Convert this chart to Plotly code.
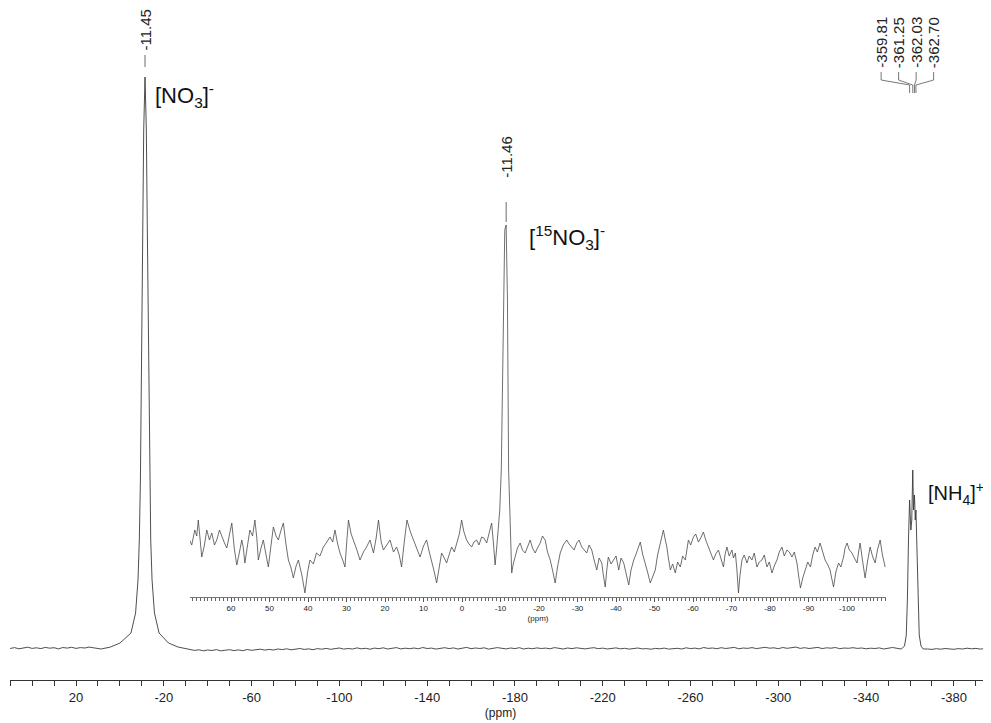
import numpy as np
import plotly.graph_objects as go

# ---------------- data ----------------
# main spectrum, intensity in arbitrary units (baseline ~0, [NO3]- peak top ~573)
base_left_ppm = np.arange(50, 9, -2)
base_left_int = [1.5, 2.4, 1.2, 2.0, 2.8, 1.6, 2.2, 1.4, 2.6, 1.8, 2.3, 1.1, 2.5, 1.9, 2.7,
                 1.6, 2.4, 2.0, 2.9, 2.2, 1.8]

no3_ppm = [8.55, 4.25, -0.05, -5.05, -7.15, -8.25, -8.85, -9.35, -9.75, -10.05, -10.45,
           -10.85, -11.45, -12.05, -12.45, -12.85, -13.15, -13.55, -14.05, -14.65,
           -15.75, -17.85, -22.15, -26.45, -31.45]
no3_int = [1, 3, 7, 17, 37, 70, 110, 170, 270, 330, 430, 520, 573, 520, 430, 330, 270,
           170, 110, 70, 37, 17, 7, 3, 1]

base_mid_ppm = np.arange(-34, -353, -2)
base_mid_int = [-0.4, 0.2, -0.8, 0.0, -0.5, 0.4, -0.9, -0.2, 0.3, -0.6,
                0.1, -0.7, 0.5, -0.3, 0.2, 0.8, -0.1, 0.6, 0.0, 1.0,
                0.4, 1.2, 0.2, 0.9, 1.5, 0.6, 1.1, 0.3, 1.4, 0.8,
                1.6, 0.7, 1.3, 2.0, 0.9, 1.5, 1.0, 2.1, 1.2, 1.7,
                0.8, 1.9, 1.3, 2.2, 1.0, 1.6, 2.4, 1.1, 1.8, 1.3,
                2.0, 1.2, 2.5, 1.5, 1.9, 0.9, 1.7, 2.3, 1.4, 2.1,
                1.0, 1.8, 2.6, 1.3, 2.0, 1.5, 2.2, 0.9, 1.6, 2.4,
                1.7, 1.1, 2.0, 1.4, 2.3, 1.0, 1.8, 1.3, 2.1, 1.5,
                1.9, 1.2, 2.4, 1.6, 1.0, 2.0, 1.4, 2.2, 1.7, 1.1,
                1.8, 2.3, 1.3, 1.9, 1.0, 1.6, 2.1, 1.2, 1.7, 0.9,
                1.5, 2.0, 1.1, 1.4, 0.8, 1.6, 1.2, 1.9, 0.9, 1.3,
                1.7, 1.0, 2.2, 1.4, 1.9, 1.1, 2.5, 1.6, 2.0, 1.3,
                2.3, 1.5, 1.8, 2.6, 1.2, 2.0, 1.6, 2.4, 1.4, 1.9,
                2.7, 1.8, 2.2, 1.3, 2.5, 1.7, 2.0, 2.9, 1.6, 2.3,
                1.5, 2.1, 2.6, 1.4, 2.2, 1.8, 2.5, 1.3, 2.0, 1.7,
                2.3, 1.6, 2.0, 1.2, 1.8, 1.5, 2.1, 1.0, 1.6, 2.5]

nh4_ppm = [-356.0, -357.5, -358.3, -358.8, -359.3, -359.81, -360.4, -360.8, -361.25,
           -361.6, -362.03, -362.4, -362.70, -363.2, -363.7, -364.2, -365.0, -366.0]
nh4_int = [1, 4, 15, 50, 110, 150, 120, 130, 180, 140, 155, 130, 140, 100, 50, 15, 4, 1]

base_right_ppm = np.arange(-368, -397, -2)
base_right_int = [1.0, 0.6, 1.3, 0.8, 1.5, 1.1, 0.7, 1.4, 1.0, 1.8, 1.2, 1.6, 0.9, 1.5, 1.2]

# inset (expanded -110..70 ppm) spectrum, arbitrary units
inset_ppm = [71.0, 70.2, 69.4, 68.9, 68.5, 68.0, 67.6, 66.9, 66.3, 65.6, 65.0, 64.3, 63.7,
             63.0, 62.4, 61.7, 61.1, 60.4, 59.8, 59.1, 58.5, 57.8, 57.2, 56.8, 56.4, 55.7,
             55.1, 54.4, 53.8, 53.3, 52.9, 52.2, 51.6, 50.9, 50.3, 49.6, 49.0, 48.3, 47.7,
             47.0, 46.4, 45.7, 45.1, 44.4, 43.8, 43.1, 42.5, 41.6, 40.8, 40.1, 39.5, 38.6,
             37.8, 36.9, 36.0, 35.1, 34.3, 33.6, 33.0, 32.3, 31.7, 31.0, 30.4, 29.9, 29.5,
             28.8, 28.2, 27.3, 26.5, 25.6, 24.8, 23.9, 23.0, 22.3, 21.7, 21.0, 20.4, 19.5,
             18.7, 17.8, 17.0, 16.3, 15.7, 15.0, 14.3, 13.4, 12.6, 11.7, 10.9, 10.0, 9.2,
             8.5, 7.9, 7.2, 6.6, 5.9, 5.3, 4.6, 4.0, 3.3, 2.7, 2.0, 1.4, 0.7, 0.1, -0.5,
             -1.2, -1.8, -2.5, -3.1, -3.8, -4.4, -5.1, -5.7, -6.4, -7.0, -7.7, -8.2, -8.6,
             -9.0, -9.4, -9.8, -10.2, -10.7, -11.1, -11.46, -11.8, -12.1, -12.5, -12.9,
             -13.3, -13.8, -14.4, -15.1, -15.7, -16.4, -17.0, -17.7, -18.3, -19.0, -19.6,
             -20.3, -20.9, -21.6, -22.2, -22.9, -23.5, -24.2, -24.8, -25.5, -26.3, -27.2,
             -27.8, -28.5, -29.1, -29.8, -30.4, -31.1, -31.7, -32.4, -33.0, -33.7, -34.3,
             -35.0, -35.6, -36.3, -36.7, -37.2, -37.6, -38.0, -38.7, -39.4, -40.0, -40.7,
             -41.3, -42.0, -42.6, -43.3, -43.9, -44.6, -45.4, -46.3, -46.9, -47.6, -48.2,
             -48.9, -49.5, -50.2, -50.8, -51.5, -51.9, -52.3, -52.7, -53.2, -53.6, -54.1,
             -54.7, -55.4, -56.0, -56.7, -57.3, -58.0, -58.4, -58.8, -59.4, -60.1, -60.7,
             -61.4, -62.0, -62.7, -63.3, -64.0, -64.6, -65.3, -65.9, -66.6, -67.2, -67.9,
             -68.3, -68.8, -69.4, -70.1, -70.5, -71.0, -71.4, -71.8, -72.2, -72.7, -73.3,
             -74.0, -74.6, -75.3, -75.9, -76.6, -77.2, -77.9, -78.5, -79.2, -79.8, -80.5,
             -81.1, -81.8, -82.4, -83.1, -83.7, -84.4, -85.0, -85.7, -86.3, -87.0, -87.4,
             -87.9, -88.5, -89.2, -89.8, -90.5, -91.1, -91.7, -92.3, -93.0, -93.6, -94.3,
             -94.9, -95.6, -96.0, -96.5, -97.1, -97.8, -98.4, -99.1, -99.5, -100.0, -100.6,
             -101.3, -101.9, -102.6, -103.0, -103.4, -104.0, -104.7, -105.3, -106.0,
             -106.6, -107.3, -107.9, -108.6, -109.2, -109.9]
inset_int = [62, 55, 70, 64, 80, 58, 43, 55, 70, 60, 67, 55, 60,
             70, 63, 57, 52, 66, 77, 50, 35, 48, 60, 52, 37, 55,
             70, 64, 80, 62, 40, 52, 60, 45, 33, 55, 73, 64, 60,
             70, 77, 55, 40, 32, 22, 34, 40, 25, 7, 28, 40, 36,
             47, 44, 53, 58, 63, 58, 70, 56, 47, 40, 33, 60, 80,
             66, 60, 50, 40, 48, 53, 60, 47, 62, 80, 58, 50, 55,
             60, 48, 53, 45, 33, 58, 80, 68, 60, 52, 43, 54, 60,
             48, 40, 28, 17, 35, 47, 42, 37, 46, 53, 48, 57, 66, 80, 68,
             60, 56, 53, 58, 60, 55, 63, 62, 57, 66, 77, 55, 35,
             52, 70, 90, 130, 260, 370, 375, 300, 130, 70, 27,
             36, 43, 52, 57, 50, 47, 54, 60, 52, 47, 52,
             57, 64, 60, 48, 40, 30, 17, 33, 47, 55, 60,
             56, 53, 50, 57, 60, 53, 50, 47, 55, 50, 40,
             30, 42, 37, 25, 13, 30, 43, 36, 40, 44, 30,
             42, 37, 28, 15, 30, 40, 48, 58, 46, 37, 28,
             17, 24, 30, 45, 57, 64, 70, 62, 53, 42, 30,
             36, 27, 38, 33, 44, 40, 50, 60, 55, 63, 66,
             58, 62, 68, 60, 53, 47, 40, 46, 50, 42, 33,
             45, 53, 44, 50, 42, 47, 30, 7, 25, 40, 45,
             37, 44, 40, 47, 33, 38, 40, 45, 33, 38, 27,
             34, 40, 48, 53, 44, 50, 48, 43, 48, 37, 25,
             12, 22, 30, 38, 33, 45, 53, 48, 57, 50, 40,
             36, 30, 22, 13, 28, 37, 33, 43, 52, 57, 50,
             47, 42, 37, 48, 57, 40, 22, 38, 53,
             44, 37, 50, 60, 45, 33]

main_tick_vals = [20, -20, -60, -100, -140, -180, -220, -260, -300, -340, -380]
main_tick_text = ["20", "-20", "-60", "-100", "-140", "-180", "-220", "-260", "-300", "-340", "-380"]
inset_tick_vals = [60, 50, 40, 30, 20, 10, 0, -10, -20, -30, -40, -50, -60, -70, -80, -90, -100]
inset_tick_text = ["60", "50", "40", "30", "20", "10", "0", "-10", "-20", "-30", "-40", "-50",
                   "-60", "-70", "-80", "-90", "-100"]

no3_shift = "-11.45"
n15_shift = "-11.46"
nh4_shifts = [-359.81, -361.25, -362.03, -362.70]
nh4_labels = ["-359.81", "-361.25", "-362.03", "-362.70"]

# ---------------- figure ----------------
main_x = list(base_left_ppm) + no3_ppm + list(base_mid_ppm) + nh4_ppm + list(base_right_ppm)
main_y = base_left_int + no3_int + base_mid_int + nh4_int + base_right_int

FONT = "Liberation Sans, Arial, sans-serif"
LINE = "#3a3a3a"

fig = go.Figure()
fig.add_trace(go.Scatter(x=main_x, y=main_y, mode="lines",
                         line=dict(color=LINE, width=0.9), xaxis="x", yaxis="y",
                         hoverinfo="skip", showlegend=False))
fig.add_trace(go.Scatter(x=inset_ppm, y=inset_int, mode="lines",
                         line=dict(color="#4a4a4a", width=0.8), xaxis="x2", yaxis="y2",
                         hoverinfo="skip", showlegend=False))

annotations = []
shapes = []

# [NO3]- peak label and leader
annotations.append(dict(x=-11.45, xref="x", y=597, yref="y", text=no3_shift,
                        textangle=-90, xanchor="center", yanchor="bottom", showarrow=False,
                        font=dict(family=FONT, size=15, color="#222")))
shapes.append(dict(type="line", xref="x", yref="y", x0=-11.45, x1=-11.45, y0=595, y1=583,
                   line=dict(color="#444", width=0.8)))
annotations.append(dict(x=0.1458, xref="paper", y=0.8705, yref="paper",
                        text="[NO<sub>3</sub>]<sup>-</sup>", xanchor="left", yanchor="middle",
                        showarrow=False, font=dict(family=FONT, size=22, color="#111")))

# [15NO3]- label (inset)
annotations.append(dict(x=-11.46, xref="x2", y=420, yref="y2", text=n15_shift,
                        textangle=-90, xanchor="center", yanchor="bottom", showarrow=False,
                        font=dict(family=FONT, size=15, color="#222")))
shapes.append(dict(type="line", xref="x2", yref="y2", x0=-11.46, x1=-11.46, y0=398, y1=378,
                   line=dict(color="#444", width=0.8)))
annotations.append(dict(x=0.527, xref="paper", y=0.6592, yref="paper",
                        text="[<sup>15</sup>NO<sub>3</sub>]<sup>-</sup>", xanchor="left",
                        yanchor="middle", showarrow=False,
                        font=dict(family=FONT, size=22, color="#111")))

# [NH4]+ label and multiplet labels
annotations.append(dict(x=0.934, xref="paper", y=0.2768, yref="paper",
                        text="[NH<sub>4</sub>]<sup>+</sup>", xanchor="left", yanchor="middle",
                        showarrow=False, font=dict(family=FONT, size=20, color="#111")))
ppm_per_px = (50.07 + 396.9) / 981.0
centre = float(np.mean(nh4_shifts)) + 5.8 * ppm_per_px
for i, (pk, lab) in enumerate(zip(nh4_shifts, nh4_labels)):
    lx = centre - (i - 1.5) * 17.5 * ppm_per_px
    annotations.append(dict(x=lx, xref="x", y=580, yref="y", text=lab, textangle=-90,
                            xanchor="center", yanchor="bottom", showarrow=False,
                            font=dict(family=FONT, size=15, color="#222")))
    shapes.append(dict(type="path", xref="x", yref="y",
                       path=f"M {lx},578 L {lx},570 L {pk},565 L {pk},557",
                       line=dict(color="#555", width=0.8)))

# page body has an 8px margin: figure is 983x715 so the plot sits where the reference has it
fig.update_layout(
    width=983, height=715,
    margin=dict(l=2, r=0, t=0, b=43),
    paper_bgcolor="white", plot_bgcolor="rgba(0,0,0,0)",
    font=dict(family=FONT, color="#222"),
    showlegend=False,
    xaxis=dict(domain=[0, 1], range=[50.07, -396.9], anchor="y", showgrid=False,
               zeroline=False, showline=True, linecolor="#333", linewidth=1,
               ticks="outside", ticklen=5, tickcolor="#333", tickwidth=1,
               tickmode="array", tickvals=main_tick_vals, ticktext=main_tick_text,
               tickfont=dict(family=FONT, size=13, color="#222"),
               minor=dict(ticks="outside", ticklen=5, tickcolor="#333", tickmode="linear",
                          tick0=0, dtick=10, showgrid=False),
               title=dict(text="(ppm)", font=dict(family=FONT, size=12, color="#222"),
                          standoff=5),
               automargin=False, fixedrange=True),
    yaxis=dict(domain=[0, 1], range=[-30, 642], visible=False, fixedrange=True),
    xaxis2=dict(domain=[0.1835, 0.893], range=[70.65, -110.13], anchor="y2",
                showgrid=False, zeroline=False, showline=True, linecolor="#777",
                linewidth=0.6, ticks="outside", ticklen=4, tickcolor="#555", tickwidth=0.8,
                tickmode="array", tickvals=inset_tick_vals, ticktext=inset_tick_text,
                tickfont=dict(family=FONT, size=8, color="#222"),
                minor=dict(ticks="outside", ticklen=3, tickcolor="#666", tickmode="linear",
                           tick0=0, dtick=1, showgrid=False),
                title=dict(text="(ppm)", font=dict(family=FONT, size=8, color="#222"),
                           standoff=2),
                automargin=False, fixedrange=True),
    yaxis2=dict(domain=[0.1235, 1], range=[3, 592], anchor="x2", visible=False,
                fixedrange=True),
    annotations=annotations,
    shapes=shapes,
)

fig.write_html("out.html")
